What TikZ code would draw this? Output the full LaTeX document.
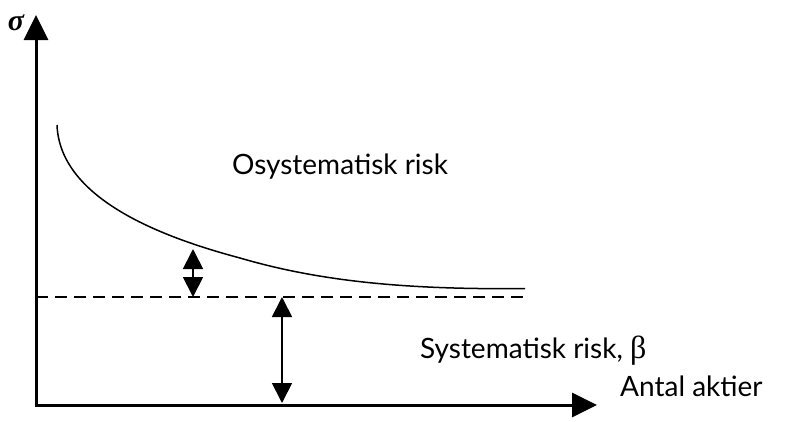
\documentclass[tikz,border=0pt]{standalone}
\usepackage{fontspec}
\setmainfont{Lato}
\newfontfamily\serifgr{Liberation Serif}
\usetikzlibrary{arrows.meta}
\tikzset{
  axis/.style={line width=3pt, -{Triangle[width=24pt,length=25pt]}},
  dbl/.style={line width=1.8pt, {Triangle[width=20pt,length=20pt]}-{Triangle[width=20pt,length=20pt]}},
  lbl/.style={font=\fontsize{28}{32}\selectfont, inner sep=0pt},
}
\begin{document}
\begin{tikzpicture}[x=1pt,y=-1pt]
\useasboundingbox (0,0) rectangle (793,421);
\coordinate (O) at (36,405);
\coordinate (ytip) at (36,15);
\coordinate (xtip) at (597,405);
\draw[axis] (36,406.5) -- (ytip);
\draw[axis] (34.5,405) -- (xtip);
\node[inner sep=0pt, font=\fontsize{30}{34}\selectfont\serifgr\itshape\bfseries] (sig) at (16,23) {σ};
% curve
\coordinate (c0) at (57,125);
\coordinate (c1) at (240,258);
\coordinate (c2) at (525,288.5);
\draw[line width=1.5pt] (c0) .. controls (60,200) and (165,238) .. (c1)
  .. controls (315,280) and (400,290) .. (c2);
% dashed
\coordinate (d1) at (36,297);
\coordinate (d2) at (525,297);
\draw[line width=2pt, dash pattern=on 12pt off 7pt] (d1) -- (d2);
% double arrows
\coordinate (a1t) at (193,249);
\coordinate (a1b) at (193,297);
\coordinate (a2t) at (282,297);
\coordinate (a2b) at (282,403);
\draw[dbl] (a1t) -- (a1b);
\draw[dbl] (a2t) -- (a2b);
% labels
\node[lbl] (osys) at (340,167) {Osystematisk risk};
\node[lbl, anchor=west] (sys) at (420,351) {Systematisk risk, {\serifgr\fontsize{32}{34}\selectfont β}};
\node[lbl, anchor=west] (antal) at (620,386) {Antal aktier};
\end{tikzpicture}
\end{document}
